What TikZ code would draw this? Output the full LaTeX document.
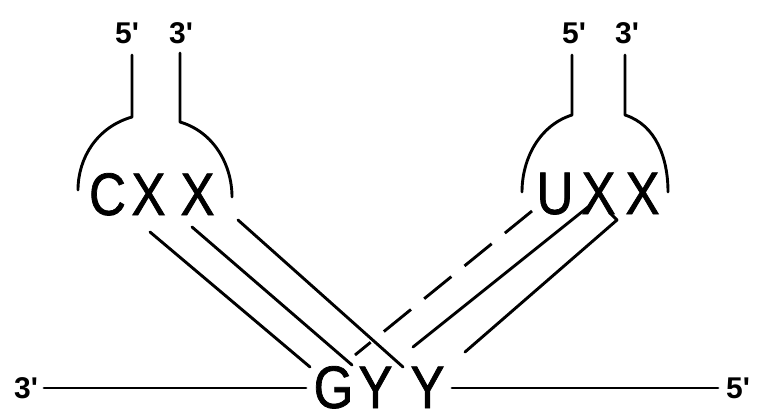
\documentclass[tikz,border=0pt]{standalone}
\usepackage{fontspec}
\setmainfont{Liberation Sans}
\newfontfamily\letf{Liberation Sans}[FakeStretch=0.85,FakeBold=1.2]
\newfontfamily\labf{Liberation Sans}[Ligatures=TeXOff]
\tikzset{
  base/.style={line width=2.9pt, line cap=round, line join=round},
  letter/.style={inner sep=0pt, anchor=base, font=\letf\fontsize{60}{60}\selectfont},
  lab/.style={inner sep=0pt, anchor=base, font=\labf\bfseries\fontsize{30}{30}\selectfont},
  pairline/.style={base},
  pairdash/.style={base, line cap=butt, dash pattern=on 35pt off 17pt},
}
\begin{document}
\begin{tikzpicture}[x=1pt,y=-1pt]
\useasboundingbox (0,0) rectangle (759,413);
% labels
\node[lab] (l5) at (127,43) {5'};
\node[lab] (l3) at (181,43) {3'};
\node[lab] (r5) at (574,43) {5'};
\node[lab] (r3) at (627,43) {3'};
\node[lab] (b3) at (26,398) {3'};
\node[lab] (b5) at (738,398) {5'};
% letters
\node[letter] (c1) at (107.5,215) {C};
\node[letter] (x1) at (148.5,215) {X};
\node[letter] (x2) at (197.5,215) {X};
\node[letter] (u1) at (555,214) {U};
\node[letter] (x3) at (598.5,214) {X};
\node[letter] (x4) at (642.5,214) {X};
\node[letter] (g1) at (333.5,408) {G};
\node[letter] (y1) at (375.5,408) {Y};
\node[letter] (y2) at (427.5,408) {Y};
% left tRNA stems and arcs
\coordinate (l5a) at (132,55); \coordinate (l5b) at (132,117); \coordinate (l5c) at (78,190);
\coordinate (l3a) at (180,53); \coordinate (l3b) at (180,122); \coordinate (l3c) at (232,197);
\draw[base] (l5a) -- (l5b) .. controls (97,127) and (78,158) .. (l5c);
\draw[base] (l3a) -- (l3b) .. controls (214,132) and (232,165) .. (l3c);
% right tRNA stems and arcs
\coordinate (r5a) at (572,55); \coordinate (r5b) at (572,115); \coordinate (r5c) at (522,192);
\coordinate (r3a) at (625,55); \coordinate (r3b) at (625,115); \coordinate (r3c) at (668,192);
\draw[base] (r5a) -- (r5b) .. controls (540,125) and (522,158) .. (r5c);
\draw[base] (r3a) -- (r3b) .. controls (656,125) and (668,158) .. (r3c);
% bottom strand
\coordinate (hl1) at (44,388); \coordinate (hl2) at (306,388);
\coordinate (hr1) at (452,388); \coordinate (hr2) at (718,388);
\draw[base] (hl1) -- (hl2);
\draw[base] (hr1) -- (hr2);
% pairing lines, left
\coordinate (pa1) at (150,232); \coordinate (pa2) at (310,367);
\coordinate (pb1) at (192,227); \coordinate (pb2) at (352,365);
\coordinate (pc1) at (238,220); \coordinate (pc2) at (403,367);
\draw[pairline] (pa1) -- (pa2);
\draw[pairline] (pb1) -- (pb2);
\draw[pairline] (pc1) -- (pc2);
% pairing lines, right
\coordinate (pd1) at (532,211); \coordinate (pd2) at (355,355);
\coordinate (pe1) at (588,207); \coordinate (pe2) at (413,347);
\coordinate (pf0) at (610,213); \coordinate (pf1) at (617,220); \coordinate (pf2) at (465,352);
\draw[pairdash] (pd1) -- (pd2);
\draw[pairline] (pe1) -- (pe2);
\draw[pairline] (pf0) -- (pf1) -- (pf2);
\end{tikzpicture}
\end{document}
